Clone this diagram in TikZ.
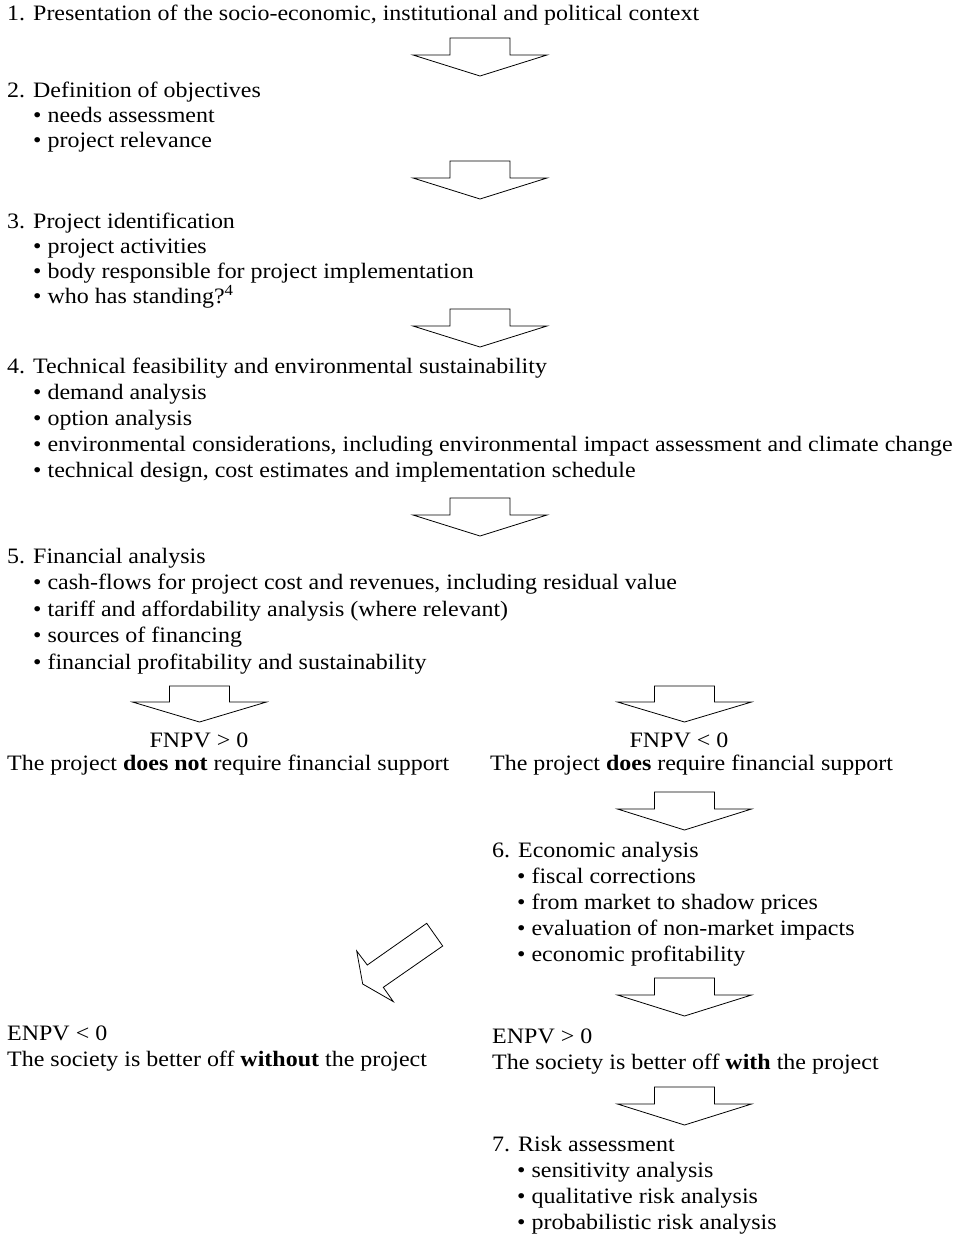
\documentclass[tikz,border=0pt]{standalone}
\usepackage{fontspec}
\setmainfont{Liberation Serif}[FakeStretch=1.09]
\tikzset{
  txt/.style={anchor=base west, inner sep=0pt, font=\fontsize{22}{26}\selectfont},
  ctr/.style={anchor=base, inner sep=0pt, font=\fontsize{22}{26}\selectfont},
  barrow/.style={draw, line width=0.8pt, fill=white, line join=miter},
  downarr/.pic={\draw[barrow] (-30,0) -- (30,0) -- (30,17) -- (67,17) -- (0,38) -- (-67,17) -- (-30,17) -- cycle;},
  downarrs/.pic={\draw[barrow] (-30,0) -- (30,0) -- (30,16) -- (67,16) -- (0,36) -- (-67,16) -- (-30,16) -- cycle;}
}
\begin{document}
\begin{tikzpicture}[x=1pt,y=-1pt]
\useasboundingbox (0,0) rectangle (960,1234);
% 1
\node[txt] (t1) at (7,20) {1. Presentation of the socio-economic, institutional and political context};
\pic at (480,38) {downarr};
% 2
\node[txt] (t2) at (7,97) {2. Definition of objectives};
\node[txt] (t2a) at (33,122) {• needs assessment};
\node[txt] (t2b) at (33,147) {• project relevance};
\pic at (480,161) {downarr};
% 3
\node[txt] (t3) at (7,228) {3. Project identification};
\node[txt] (t3a) at (33,253) {• project activities};
\node[txt] (t3b) at (33,278) {• body responsible for project implementation};
\node[txt] (t3c) at (33,303) {• who has standing?\textsuperscript{4}};
\pic at (480,309) {downarr};
% 4
\node[txt] (t4) at (7,373) {4. Technical feasibility and environmental sustainability};
\node[txt] (t4a) at (33,399) {• demand analysis};
\node[txt] (t4b) at (33,425) {• option analysis};
\node[txt] (t4c) at (33,451) {• environmental considerations, including environmental impact assessment and climate change};
\node[txt] (t4d) at (33,477) {• technical design, cost estimates and implementation schedule};
\pic at (480,498) {downarr};
% 5
\node[txt] (t5) at (7,563) {5. Financial analysis};
\node[txt] (t5a) at (33,589) {• cash-flows for project cost and revenues, including residual value};
\node[txt] (t5b) at (33,616) {• tariff and affordability analysis (where relevant)};
\node[txt] (t5c) at (33,642) {• sources of financing};
\node[txt] (t5d) at (33,669) {• financial profitability and sustainability};
\pic at (199.5,686) {downarrs};
\pic at (684.5,686) {downarrs};
\node[ctr] (f1) at (199,747) {FNPV > 0};
\node[txt] (f1b) at (7,770) {The project \textbf{does not} require financial support};
\node[ctr] (f2) at (679,747) {FNPV < 0};
\node[txt] (f2b) at (490,770) {The project \textbf{does} require financial support};
\pic at (684.5,792) {downarr};
% 6
\node[txt] (t6) at (492,857) {6. Economic analysis};
\node[txt] (t6a) at (517,883) {• fiscal corrections};
\node[txt] (t6b) at (517,909) {• from market to shadow prices};
\node[txt] (t6c) at (517,935) {• evaluation of non-market impacts};
\node[txt] (t6d) at (517,961) {• economic profitability};
\pic at (684.5,978) {downarr};
% diagonal arrow
\draw[barrow] (426.7,923.3) -- (442.7,946) -- (383.3,987.3) -- (393.3,1001.6) -- (362.7,984) -- (356.7,951) -- (367.3,965) -- cycle;
\node[txt] (e1) at (7,1040) {ENPV < 0};
\node[txt] (e1b) at (7,1066) {The society is better off \textbf{without} the project};
\node[txt] (e2) at (492,1043) {ENPV > 0};
\node[txt] (e2b) at (492,1069) {The society is better off \textbf{with} the project};
\pic at (684.5,1087) {downarr};
% 7
\node[txt] (t7) at (492,1151) {7. Risk assessment};
\node[txt] (t7a) at (517,1177) {• sensitivity analysis};
\node[txt] (t7b) at (517,1203) {• qualitative risk analysis};
\node[txt] (t7c) at (517,1229) {• probabilistic risk analysis};
\end{tikzpicture}
\end{document}
